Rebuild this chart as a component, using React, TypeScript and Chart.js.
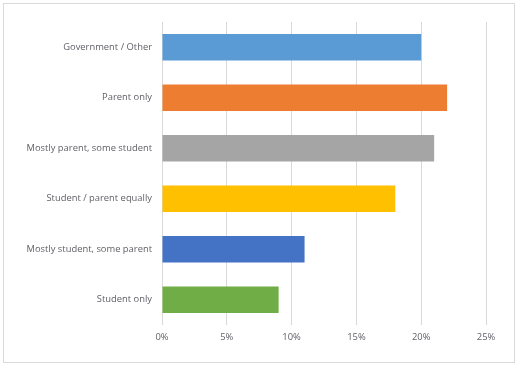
import React, { useEffect, useRef } from "react";
import { Chart, registerables } from "chart.js";

Chart.register(...registerables);

const categories = [
  "Government / Other",
  "Parent only",
  "Mostly parent, some student",
  "Student / parent equally",
  "Mostly student, some parent",
  "Student only",
];
const values = [20, 22, 21, 18, 11, 9];
const barColors = ["#5B9BD5", "#ED7D31", "#A5A5A5", "#FFC000", "#4472C4", "#70AD47"];
const xMax = 25;
const xStep = 5;

export default function App() {
  const ref = useRef<HTMLCanvasElement>(null);
  useEffect(() => {
    const ctx = ref.current!;
    const chart = new Chart(ctx, {
      type: "bar",
      data: {
        labels: categories,
        datasets: [
          {
            data: values,
            backgroundColor: barColors,
            borderWidth: 0,
            barPercentage: 0.52,
            categoryPercentage: 1,
          },
        ],
      },
      options: {
        indexAxis: "y",
        animation: false,
        responsive: false,
        maintainAspectRatio: false,
        layout: { padding: { left: 0, top: 22, right: 34, bottom: 0 } },
        plugins: { legend: { display: false }, tooltip: { enabled: false } },
        scales: {
          x: {
            min: 0,
            max: xMax,
            ticks: {
              stepSize: xStep,
              callback: (v: any) => v + "%",
              color: "#5f5f66",
              font: { family: "Open Sans", size: 9.4 },
              padding: 7,
            },
            grid: { color: "#d9d9d9", drawTicks: false, lineWidth: 1 },
            border: { display: false },
            afterFit: (s: any) => {
              s.height = 41;
            },
          },
          y: {
            ticks: {
              color: "#5f5f66",
              font: { family: "Open Sans", size: 9.4 },
              padding: 10,
            },
            grid: { display: false, drawTicks: false },
            border: { display: false },
            afterFit: (s: any) => {
              s.width = 162;
            },
          },
        },
      },
    });
    return () => chart.destroy();
  }, []);
  return (
    <div style={{ position: "fixed", left: 0, top: 0, width: 520, height: 366, background: "#fff" }}>
      <div
        style={{
          position: "absolute",
          left: 3,
          top: 3,
          width: 510,
          height: 358,
          border: "1px solid #d9d9d9",
        }}
      />
      <canvas ref={ref} width={520} height={366} style={{ position: "absolute", left: 0, top: 0 }} />
    </div>
  );
}
